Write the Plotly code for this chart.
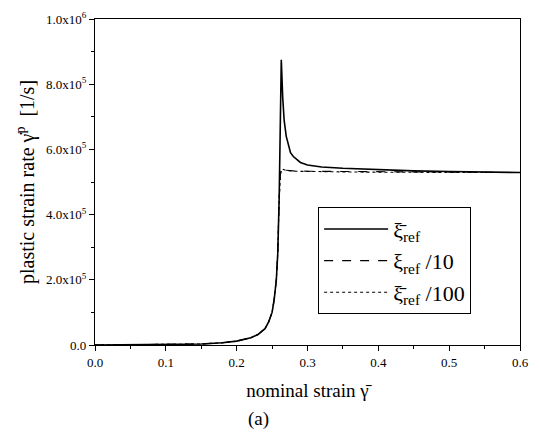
import plotly.graph_objects as go

# nominal strain and plastic strain rate (units of 1e5 1/s)
x_ref = [0.0, 0.05, 0.10, 0.15, 0.18, 0.20, 0.22, 0.23, 0.24, 0.245, 0.25, 0.253, 0.256,
         0.258, 0.260, 0.261, 0.262, 0.263, 0.265, 0.267, 0.270, 0.273, 0.276, 0.280,
         0.290, 0.300, 0.320, 0.350, 0.400, 0.450, 0.500, 0.550, 0.600]
y_ref = [0.0, 0.005, 0.01, 0.03, 0.07, 0.12, 0.22, 0.32, 0.50, 0.70, 1.0, 1.4, 2.0,
         2.8, 4.5, 6.0, 7.6, 8.75, 7.6, 6.9, 6.4, 6.1, 5.9, 5.78,
         5.6, 5.52, 5.46, 5.42, 5.37, 5.34, 5.32, 5.30, 5.29]

x_ref10 = [0.0, 0.05, 0.10, 0.15, 0.18, 0.20, 0.22, 0.23, 0.24, 0.245, 0.25, 0.253, 0.256,
           0.258, 0.260, 0.262, 0.264, 0.267, 0.270, 0.280, 0.300, 0.350, 0.400, 0.500, 0.600]
y_ref10 = [0.0, 0.005, 0.01, 0.03, 0.07, 0.12, 0.22, 0.32, 0.50, 0.70, 1.0, 1.4, 2.0,
           2.8, 4.5, 5.3, 5.45, 5.42, 5.36, 5.34, 5.33, 5.32, 5.31, 5.30, 5.29]

x_ref100 = [0.0, 0.05, 0.10, 0.15, 0.18, 0.20, 0.22, 0.23, 0.24, 0.245, 0.25, 0.253, 0.256,
            0.258, 0.260, 0.262, 0.264, 0.267, 0.270, 0.280, 0.300, 0.350, 0.400, 0.500, 0.600]
y_ref100 = [0.0, 0.005, 0.01, 0.03, 0.07, 0.12, 0.22, 0.32, 0.50, 0.70, 1.0, 1.4, 2.0,
            2.8, 4.5, 5.25, 5.4, 5.38, 5.35, 5.33, 5.32, 5.31, 5.30, 5.30, 5.29]

scale = 1e5

y_tickvals = [0, 2e5, 4e5, 6e5, 8e5, 1e6]
y_ticktext = ["0.0", "2.0x10<sup>5</sup>", "4.0x10<sup>5</sup>", "6.0x10<sup>5</sup>",
              "8.0x10<sup>5</sup>", "1.0x10<sup>6</sup>"]
x_tickvals = [0.0, 0.1, 0.2, 0.3, 0.4, 0.5, 0.6]
x_ticktext = ["0.0", "0.1", "0.2", "0.3", "0.4", "0.5", "0.6"]

legend_names = ["ξ̄<sub>ref</sub>", "ξ<sub>ref</sub> /10", "ξ̄<sub>ref</sub> /100"]

FONT = "Liberation Serif, Times New Roman, serif"

fig = go.Figure()
fig.add_trace(go.Scatter(x=x_ref, y=[v * scale for v in y_ref], mode="lines",
                         name=legend_names[0], line=dict(color="black", width=1.6)))
fig.add_trace(go.Scatter(x=x_ref10, y=[v * scale for v in y_ref10], mode="lines",
                         name=legend_names[1], line=dict(color="black", width=1.1, dash="dash")))
fig.add_trace(go.Scatter(x=x_ref100, y=[v * scale for v in y_ref100], mode="lines",
                         name=legend_names[2], line=dict(color="black", width=1.1, dash="dot")))

fig.update_layout(
    width=539, height=437,
    margin=dict(l=95, r=10, t=16, b=92),
    paper_bgcolor="white", plot_bgcolor="white",
    font=dict(family=FONT, color="black", size=13),
    showlegend=True,
    legend=dict(x=0.525, y=0.4225, xanchor="left", yanchor="top",
                bordercolor="black", borderwidth=1, bgcolor="white",
                font=dict(family=FONT, size=22), itemwidth=64,
                tracegroupgap=0),
    xaxis=dict(range=[0, 0.6], tickvals=x_tickvals, ticktext=x_ticktext,
               showgrid=False, zeroline=False, showline=True, linecolor="black",
               linewidth=1.2, mirror=True, ticks="outside", ticklen=5,
               tickcolor="black",
               minor=dict(dtick=0.05, ticks="outside", ticklen=3, tickcolor="black"),
               title=dict(text="nominal strain γ̄", font=dict(size=19, family=FONT),
                          standoff=14),
               tickfont=dict(size=13, family=FONT)),
    yaxis=dict(range=[0, 1e6], tickvals=y_tickvals, ticktext=y_ticktext,
               showgrid=False, zeroline=False, showline=True, linecolor="black",
               linewidth=1.2, mirror=True, ticks="outside", ticklen=5,
               tickcolor="black",
               minor=dict(dtick=1e5, ticks="outside", ticklen=3, tickcolor="black"),
               title=dict(text="plastic strain rate γ̇<sup>p</sup>  [1/s]",
                          font=dict(size=20, family=FONT), standoff=6),
               tickfont=dict(size=13, family=FONT)),
    annotations=[dict(text="(a)", xref="paper", yref="paper", x=0.385, y=-0.228,
                      xanchor="center", yanchor="middle", showarrow=False,
                      font=dict(size=19, family=FONT))],
)

# remove the default 8px page margin so the figure sits at the window's corner
fig.write_html("out.html",
               config={"displayModeBar": False},
               post_script="document.body.style.margin='0';"
                           "document.body.style.overflow='hidden';")
